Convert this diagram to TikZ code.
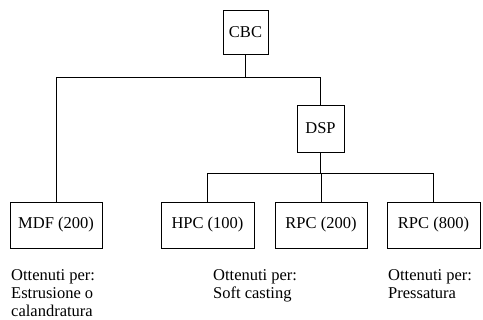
\documentclass[tikz,border=0pt]{standalone}
\usepackage{fontspec}
\setmainfont{Liberation Serif}
\begin{document}
\begin{tikzpicture}[x=1pt,y=-1pt,
  box/.style={draw, line width=0.9pt, inner sep=0pt, font=\fontsize{16.5}{18}\selectfont},
  lbl/.style={anchor=north west, align=left, inner sep=0pt, font=\fontsize{16.5}{18}\selectfont},
  conn/.style={line width=0.8pt}]
\useasboundingbox (0,0) rectangle (483,320);
\node[box, minimum width=45, minimum height=44] (cbc) at (245.5,32) {CBC};
\node[box, minimum width=47, minimum height=47] (dsp) at (320.5,128.5) {DSP};
\node[box, minimum width=92, minimum height=46] (mdf) at (56,225) {MDF (200)};
\node[box, minimum width=93, minimum height=46] (hpc) at (207.5,225) {HPC (100)};
\node[box, minimum width=92, minimum height=46] (rpca) at (321,225) {RPC (200)};
\node[box, minimum width=93, minimum height=46] (rpcb) at (433.5,225) {RPC (800)};
\coordinate (h1) at (0,77);
\coordinate (h2) at (0,173);
\draw[conn] (cbc.south) -- (cbc.south |- h1);
\draw[conn] (mdf.north) -- (mdf.north |- h1) -- (dsp.north |- h1) -- (dsp.north);
\draw[conn] (dsp.south) -- (dsp.south |- h2);
\draw[conn] (hpc.north) -- (hpc.north |- h2) -- (rpcb.north |- h2) -- (rpcb.north);
\draw[conn] (rpca.north) -- (rpca.north |- h2);
\node[lbl] (t1) at (11,269) {Ottenuti per:\\Estrusione o\\calandratura};
\node[lbl] (t2) at (213,269) {Ottenuti per:\\Soft casting};
\node[lbl] (t3) at (388,269) {Ottenuti per:\\Pressatura};
\end{tikzpicture}
\end{document}
